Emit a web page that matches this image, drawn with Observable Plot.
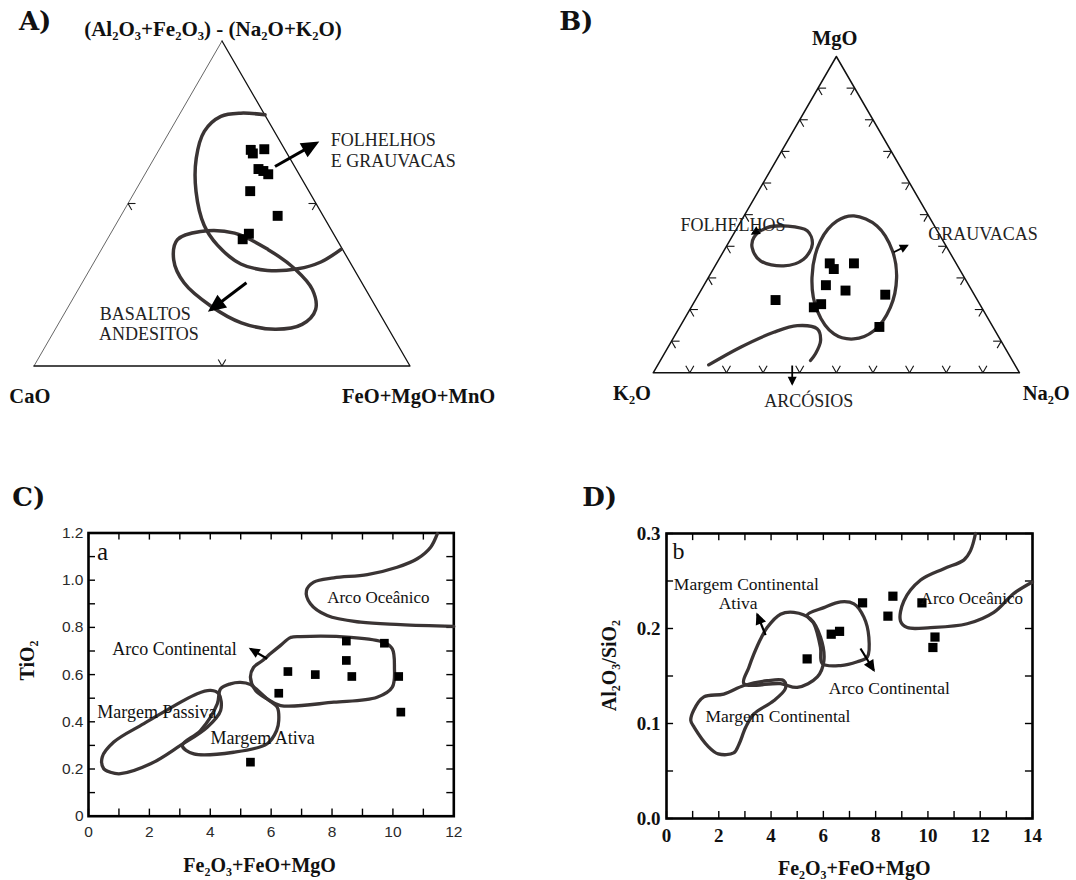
<!DOCTYPE html>
<html><head><meta charset="utf-8">
<script src="https://cdn.jsdelivr.net/npm/d3@7"></script>
<script src="https://cdn.jsdelivr.net/npm/@observablehq/plot@0.6"></script>
<style>
body{margin:0;background:#fff;}
#fig{position:relative;width:1076px;height:880px;overflow:hidden;background:#fff;}
#fig svg{position:absolute;overflow:visible;}
</style></head><body><div id="fig"></div>
<script>
// ================= DATA =================
// Panel A — ternary (Al2O3+Fe2O3)-(Na2O+K2O) [top] / CaO [left] / FeO+MgO+MnO [right], in %
const aTop = [66.5, 65.4, 66.7, 60.6, 60.0, 59.0, 53.8, 46.2, 40.7, 39.0];
const aCaO = [9.1, 9.1, 5.4, 10.0, 9.0, 8.2, 15.6, 12.1, 22.5, 25.0];
const aFMM = [24.4, 25.5, 27.9, 29.4, 31.0, 32.8, 30.6, 41.7, 36.8, 36.0];
// field boundaries as [top %, FeO+MgO+MnO %]
const aFieldShales = [[77.3,22.8],[77.8,16.1],[76.8,11.3],[72.2,9.2],[63.9,11.2],[53.6,16.3],[43.3,23.6],[37.1,30.3],[31.4,39.3],[29.4,47.4],[29.9,55.2],[32.0,60.3],[35.9,63.7]];
const aFieldBasalts = [[38.9,18.7],[41.4,23.6],[40.9,32.9],[35.8,44.4],[29.7,54.7],[23.5,62.3],[17.4,66.2],[12.8,64.9],[11.3,58.5],[13.3,48.5],[18.4,37.9],[25.6,27.1],[32.7,20.8]];
const aArrowFrom = [[61.4,33.4],[25.6,43.7]];
const aArrowTo = [[68.5,40.7],[17.4,38.4]];
const aTicks = [0.5];
const aLabels = ["A)", "(Al₂O₃+Fe₂O₃) - (Na₂O+K₂O)", "CaO", "FeO+MgO+MnO", "FOLHELHOS", "E GRAUVACAS", "BASALTOS", "ANDESITOS"];

// Panel B — ternary MgO [top] / K2O [left] / Na2O [right], in %
const bMgO = [34.6, 32.8, 34.6, 27.7, 26.0, 24.7, 21.7, 20.7, 23.0, 14.5];
const bK2O = [34.5, 34.3, 27.9, 39.0, 34.5, 24.3, 43.3, 45.8, 55.1, 31.0];
const bNa2O = [30.9, 32.9, 37.5, 33.3, 39.5, 51.0, 35.0, 33.5, 21.9, 54.5];
// field boundaries as [MgO %, Na2O %]
const bFieldShales = [[42.8,6.1],[45.9,8.2],[46.4,13.4],[44.9,19.6],[40.7,23.1],[35.9,23.1],[33.8,18.7],[35.4,11.6],[39.6,7.2]];
const bFieldGreywackes = [[49.6,30.0],[46.4,37.9],[38.6,46.0],[30.1,51.4],[20.7,54.4],[13.3,53.6],[10.7,49.4],[12.3,43.2],[19.6,35.0],[30.1,28.3],[41.7,24.8],[48.0,26.2]];
const bFieldArkoses = [[2.5,13.9],[8.1,19.8],[12.8,26.5],[14.9,31.9],[13.9,37.8],[10.2,40.6],[6.0,41.3],[3.9,41.0]];
const bArrowFrom = [[45.5,6.6],[2.3,36.8],[38.1,46.6]];
const bArrowTo = [[44.0,5.1],[-3.5,39.7],[40.2,49.2]];
const bTicks = [0.1,0.2,0.3,0.4,0.5,0.6,0.7,0.8,0.9];
const bLabels = ["B)", "MgO", "K₂O", "Na₂O", "ARCÓSIOS", "FOLHELHOS", "GRAUVACAS"];

// Panel C — TiO2 vs Fe2O3+FeO+MgO
const cFeMg = [5.32, 6.25, 6.55, 7.45, 8.47, 8.65, 10.19, 10.26, 8.47, 9.72];
const cTiO2 = [0.229, 0.521, 0.613, 0.600, 0.660, 0.592, 0.592, 0.441, 0.742, 0.733];
const cFieldOceanic = [[11.46,1.197],[11.24,1.140],[10.80,1.091],[10.14,1.055],[9.16,1.024],[8.06,1.010],[7.40,0.992],[7.16,0.956],[7.29,0.900],[7.84,0.850],[8.94,0.822],[10.25,0.812],[12.0,0.804]];
const cFieldContArc = [[6.31,0.724],[6.64,0.757],[6.96,0.761],[8.61,0.758],[9.70,0.737],[9.98,0.709],[10.05,0.631],[9.98,0.547],[9.48,0.504],[8.06,0.483],[6.31,0.469],[5.87,0.497],[5.49,0.533],[5.32,0.588],[5.42,0.630],[5.72,0.660],[5.98,0.689]];
const cFieldActive = [[3.08,0.300],[3.46,0.264],[4.77,0.271],[5.87,0.307],[6.18,0.363],[6.25,0.406],[6.20,0.462],[5.87,0.497],[5.49,0.541],[5.32,0.558],[4.99,0.567],[4.66,0.561],[4.34,0.540],[4.23,0.476],[3.68,0.363]];
const cFieldPassive = [[0.50,0.201],[0.72,0.186],[1.05,0.180],[2.04,0.222],[3.02,0.300],[3.90,0.377],[4.34,0.448],[4.28,0.519],[4.01,0.533],[3.57,0.519],[1.82,0.392],[0.83,0.314],[0.45,0.250]];
const cArrowFrom = [[5.87,0.667]];
const cArrowTo = [[5.32,0.709]];
const cXTickLabels = [0,2,4,6,8,10,12];
const cYTickLabels = [0,0.2,0.4,0.6,0.8,1.0,1.2];
const cXTicks = [0,1,2,3,4,5,6,7,8,9,10,11,12];
const cYTicks = [0,0.1,0.2,0.3,0.4,0.5,0.6,0.7,0.8,0.9,1.0,1.1,1.2];
const cLabels = ["C)", "TiO₂", "Fe₂O₃+FeO+MgO", "a", "Arco Oceânico", "Arco Continental", "Margem Passiva", "Margem Ativa"];

// Panel D — Al2O3/SiO2 vs Fe2O3+FeO+MgO
const dFeMg = [5.38, 6.30, 6.62, 7.50, 8.66, 8.47, 9.77, 10.27, 10.19];
const dAlSi = [0.168, 0.194, 0.197, 0.227, 0.234, 0.213, 0.227, 0.191, 0.180];
const dFieldContMargin = [[1.04,0.114],[1.43,0.128],[2.19,0.131],[2.96,0.140],[3.85,0.145],[4.49,0.145],[4.55,0.137],[4.10,0.124],[3.34,0.110],[3.03,0.096],[2.77,0.078],[2.57,0.069],[1.98,0.068],[1.59,0.076],[1.06,0.096],[0.93,0.103]];
const dFieldActive = [[2.96,0.142],[3.15,0.159],[3.34,0.173],[3.60,0.189],[3.85,0.201],[4.36,0.215],[4.87,0.217],[5.51,0.210],[5.89,0.191],[6.02,0.166],[5.77,0.149],[5.00,0.138],[4.36,0.142]];
const dFieldContArc = [[5.38,0.214],[6.02,0.222],[6.66,0.228],[7.17,0.226],[7.55,0.212],[7.74,0.191],[7.68,0.170],[7.30,0.165],[6.66,0.161],[5.96,0.163],[5.89,0.180],[5.64,0.205]];
const dFieldOceanic = [[11.82,0.300],[11.63,0.282],[11.37,0.272],[10.61,0.263],[9.72,0.251],[9.08,0.229],[8.95,0.208],[9.21,0.201],[10.10,0.201],[11.50,0.205],[12.52,0.217],[13.29,0.237],[14.0,0.249]];
const dArrowFrom = [[3.79,0.193],[7.42,0.179]];
const dArrowTo = [[3.47,0.215],[7.93,0.156]];
const dXTickLabels = [0,2,4,6,8,10,12,14];
const dYTickLabels = [0,0.1,0.2,0.3];
const dXTicks = [0,1,2,3,4,5,6,7,8,9,10,11,12,13,14];
const dYTicks = [0,0.05,0.1,0.15,0.2,0.25,0.3];
const dLabels = ["D)", "Al₂O₃/SiO₂", "Fe₂O₃+FeO+MgO", "b", "Margem Continental", "Ativa", "Arco Continental", "Margem Continental", "Arco Oceânico"];

// ================= HELPERS =================
const SERIF = "'Liberation Serif','Times New Roman',serif";
const HEAVY = "'DejaVu Serif',serif";
const INK = "#3a3434";

// ternary [top %, right %] -> triangle plane (x in 0..1, y = top fraction)
const tern = ([t, r]) => ({x: (r + t / 2) / 100, y: t / 100});
const ternPts = (top, left, right) => top.map((t, i) => {
  const s = t + left[i] + right[i];
  return {x: (right[i] + t / 2) / s, y: t / s};
});
// triangle edges: left (left vertex -> apex), right (apex -> right vertex), base
const edgeLeft = [[0,0],[100,0]].map(tern);
const edgeRest = [[100,0],[0,100],[0,0]].map(tern);
function chevrons(fracs, L) {
  const P = (t, r) => [r + t / 2, t];
  const out = [];
  for (const f of fracs) {
    const pairs = [
      [[f,0],[f,L]], [[f,0],[f-L,L]],
      [[f,1-f],[f,1-f-L]], [[f,1-f],[f-L,1-f]],
      [[0,f],[L,f-L]], [[0,f],[L,f]]
    ];
    for (const [[t1,r1],[t2,r2]] of pairs) {
      const [x1,y1] = P(t1,r1), [x2,y2] = P(t2,r2);
      out.push({x1,y1,x2,y2});
    }
  }
  return out;
}
const ternArrows = (from, to) => from.map((f, i) => {
  const a = tern(f), b = tern(to[i]);
  return {x1: a.x, y1: a.y, x2: b.x, y2: b.y};
});
const xyArrows = (from, to) => from.map((f, i) => ({x1: f[0], y1: f[1], x2: to[i][0], y2: to[i][1]}));
const xy = (pairs) => pairs.map(([x, y]) => ({x, y}));

function solidHeads(svg, len, half, over) {
  svg.querySelectorAll("marker").forEach(m => {
    const c = m.getAttribute("stroke") || "black";
    m.setAttribute("markerUnits", "userSpaceOnUse");
    m.setAttribute("viewBox", `${-len + over} ${-half} ${len} ${2 * half}`);
    m.setAttribute("markerWidth", len);
    m.setAttribute("markerHeight", 2 * half);
    m.setAttribute("refX", 0); m.setAttribute("refY", 0);
    m.setAttribute("fill", c); m.setAttribute("stroke", "none");
    m.setAttribute("overflow", "visible");
    m.querySelectorAll("path").forEach(p => p.setAttribute("d", `M${-len + over},${-half}L${over},0L${-len + over},${half}Z`));
  });
}
function place(svg, left, top) {
  svg.style.position = "absolute";
  svg.style.left = left + "px";
  svg.style.top = top + "px";
  document.getElementById("fig").appendChild(svg);
}
const label = (txt, x, y, o = {}) => Plot.text([txt], {x, y, text: d => d, fontFamily: SERIF, fill: "#111", ...o});

// ================= PANEL A =================
const plotA = Plot.plot({
  width: 538, height: 440,
  marginLeft: 33.5, marginRight: 128.5, marginTop: 40.5, marginBottom: 74.5,
  x: {domain: [0, 1], axis: null},
  y: {domain: [0, 1], axis: null},
  style: {fontFamily: SERIF, background: "transparent", overflow: "visible"},
  marks: [
    Plot.line(edgeLeft, {x: "x", y: "y", stroke: "#555", strokeWidth: 0.9}),
    Plot.line(edgeRest, {x: "x", y: "y", stroke: "#111", strokeWidth: 1.3}),
    Plot.link(chevrons(aTicks, 0.02), {x1: "x1", y1: "y1", x2: "x2", y2: "y2", stroke: "#1a1a1a", strokeWidth: 1.1}),
    Plot.line(aFieldShales.map(tern), {x: "x", y: "y", curve: "catmull-rom", stroke: INK, strokeWidth: 3.5}),
    Plot.line(aFieldBasalts.map(tern), {x: "x", y: "y", curve: "catmull-rom-closed", stroke: INK, strokeWidth: 3.5}),
    Plot.link(ternArrows(aArrowFrom, aArrowTo), {x1: "x1", y1: "y1", x2: "x2", y2: "y2", stroke: "black", strokeWidth: 3, markerEnd: "arrow"}),
    Plot.dot(ternPts(aTop, aCaO, aFMM), {x: "x", y: "y", symbol: "square", r: 5.6, fill: "black"}),
    label(aLabels[0], 0.003, 1.061, {fontFamily: HEAVY, fontWeight: "bold", fontSize: 26}),
    label(aLabels[1], 0.476, 1.037, {fontWeight: "bold", fontSize: 21}),
    label(aLabels[2], -0.011, -0.094, {fontWeight: "bold", fontSize: 20.5}),
    label(aLabels[3], 1.023, -0.094, {fontWeight: "bold", fontSize: 20.5}),
    label(aLabels[4], 0.789, 0.694, {textAnchor: "start", fontSize: 18, fill: "#222"}),
    label(aLabels[5], 0.789, 0.629, {textAnchor: "start", fontSize: 18, fill: "#222"}),
    label(aLabels[6], 0.175, 0.158, {textAnchor: "start", fontSize: 18, fill: "#222"}),
    label(aLabels[7], 0.173, 0.097, {textAnchor: "start", fontSize: 18, fill: "#222"})
  ]
});
solidHeads(plotA, 18, 8, 4);
place(plotA, 0, 0);

// ================= PANEL B =================
const plotB = Plot.plot({
  width: 538, height: 440,
  marginLeft: 114.7, marginRight: 57, marginTop: 56, marginBottom: 67.7,
  x: {domain: [0, 1], axis: null},
  y: {domain: [0, 1], axis: null},
  style: {fontFamily: SERIF, background: "transparent", overflow: "visible"},
  marks: [
    Plot.line([...edgeLeft, ...edgeRest.slice(1)], {x: "x", y: "y", curve: "linear-closed", stroke: "#111", strokeWidth: 1.5}),
    Plot.link(chevrons(bTicks, 0.022), {x1: "x1", y1: "y1", x2: "x2", y2: "y2", stroke: "#111", strokeWidth: 1.1}),
    Plot.line(bFieldShales.map(tern), {x: "x", y: "y", curve: "catmull-rom-closed", stroke: INK, strokeWidth: 3.3}),
    Plot.line(bFieldGreywackes.map(tern), {x: "x", y: "y", curve: "catmull-rom-closed", stroke: INK, strokeWidth: 3.3}),
    Plot.line(bFieldArkoses.map(tern), {x: "x", y: "y", curve: "catmull-rom", stroke: INK, strokeWidth: 3.3}),
    Plot.link(ternArrows(bArrowFrom, bArrowTo), {x1: "x1", y1: "y1", x2: "x2", y2: "y2", stroke: "black", strokeWidth: 1.8, markerEnd: "arrow"}),
    Plot.dot(ternPts(bMgO, bK2O, bNa2O), {x: "x", y: "y", symbol: "square", r: 5.6, fill: "black"}),
    label(bLabels[0], -0.21, 1.111, {fontFamily: HEAVY, fontWeight: "bold", fontSize: 26}),
    label(bLabels[1], 0.4955, 1.0585, {fontWeight: "bold", fontSize: 20.5}),
    label(bLabels[2], -0.058, -0.064, {fontWeight: "bold", fontSize: 20.5}),
    label(bLabels[3], 1.073, -0.064, {fontWeight: "bold", fontSize: 20.5}),
    label(bLabels[4], 0.4248, -0.090, {fontSize: 18, fill: "#222"}),
    label(bLabels[5], 0.2179, 0.4657, {fontSize: 18, fill: "#222"}),
    label(bLabels[6], 0.9004, 0.4395, {fontSize: 18, fill: "#222"})
  ]
});
solidHeads(plotB, 9, 4.5, 2);
place(plotB, 538, 0);

// ================= PANEL C =================
const plotC = Plot.plot({
  width: 538, height: 440,
  marginLeft: 88, marginRight: 84.7, marginTop: 92.5, marginBottom: 64.3,
  x: {domain: [0, 12], ticks: cXTickLabels, tickSize: 0, tickPadding: 10, tickFormat: d => String(d), label: null},
  y: {domain: [0, 1.2], ticks: cYTickLabels, tickSize: 0, tickPadding: 5, tickFormat: d => d === 0 ? "0" : d.toFixed(1), label: null},
  style: {fontFamily: "'Liberation Sans',sans-serif", fontSize: "15.5px", color: "#2a2a2a", background: "transparent", overflow: "visible"},
  marks: [
    Plot.ruleX(cXTicks, {y1: 0, y2: 0.03, stroke: "black", strokeWidth: 1.4}),
    Plot.ruleX(cXTicks, {y1: 1.2, y2: 1.17, stroke: "black", strokeWidth: 1.4}),
    Plot.ruleY(cYTicks, {x1: 0, x2: 0.23, stroke: "black", strokeWidth: 1.4}),
    Plot.ruleY(cYTicks, {x1: 12, x2: 11.77, stroke: "black", strokeWidth: 1.4}),
    Plot.frame({stroke: "black", strokeWidth: 2.6}),
    Plot.line(xy(cFieldOceanic), {x: "x", y: "y", curve: "catmull-rom", stroke: INK, strokeWidth: 3.3}),
    Plot.line(xy(cFieldContArc), {x: "x", y: "y", curve: "catmull-rom-closed", stroke: INK, strokeWidth: 3.3}),
    Plot.line(xy(cFieldActive), {x: "x", y: "y", curve: "catmull-rom-closed", stroke: INK, strokeWidth: 3.3}),
    Plot.line(xy(cFieldPassive), {x: "x", y: "y", curve: "catmull-rom-closed", stroke: INK, strokeWidth: 3.3}),
    Plot.link(xyArrows(cArrowFrom, cArrowTo), {x1: "x1", y1: "y1", x2: "x2", y2: "y2", stroke: "black", strokeWidth: 2.2, markerEnd: "arrow"}),
    Plot.dot(cFeMg.map((x, i) => ({x, y: cTiO2[i]})), {x: "x", y: "y", symbol: "square", r: 4.9, fill: "black"}),
    label(cLabels[0], -1.96, 1.348, {fontFamily: HEAVY, fontWeight: "bold", fontSize: 26}),
    label(cLabels[1], -2.0, 0.66, {fontWeight: "bold", fontSize: 20, rotate: -90}),
    label(cLabels[2], 5.62, -0.209, {fontWeight: "bold", fontSize: 20}),
    label(cLabels[3], 0.46, 1.118, {fontSize: 25}),
    label(cLabels[4], 7.84, 0.928, {textAnchor: "start", fontSize: 17}),
    label(cLabels[5], 0.78, 0.709, {textAnchor: "start", fontSize: 18}),
    label(cLabels[6], 0.29, 0.44, {textAnchor: "start", fontSize: 18}),
    label(cLabels[7], 4.01, 0.332, {textAnchor: "start", fontSize: 18})
  ]
});
solidHeads(plotC, 11, 5, 2);
place(plotC, 0, 440);

// ================= PANEL D =================
const plotD = Plot.plot({
  width: 538, height: 440,
  marginLeft: 128, marginRight: 44, marginTop: 93, marginBottom: 62,
  x: {domain: [0, 14], ticks: dXTickLabels, tickSize: 0, tickPadding: 10, tickFormat: d => String(d), label: null},
  y: {domain: [0, 0.3], ticks: dYTickLabels, tickSize: 0, tickPadding: 6, tickFormat: d => d.toFixed(1), label: null},
  style: {fontFamily: SERIF, fontSize: "19px", fontWeight: "bold", color: "#111", background: "transparent", overflow: "visible"},
  marks: [
    Plot.ruleX(dXTicks, {y1: 0, y2: 0.0075, stroke: "black", strokeWidth: 1.4}),
    Plot.ruleX(dXTicks, {y1: 0.3, y2: 0.2925, stroke: "black", strokeWidth: 1.4}),
    Plot.ruleY(dYTicks, {x1: 0, x2: 0.27, stroke: "black", strokeWidth: 1.4}),
    Plot.ruleY(dYTicks, {x1: 14, x2: 13.73, stroke: "black", strokeWidth: 1.4}),
    Plot.frame({stroke: "black", strokeWidth: 2.6}),
    Plot.line(xy(dFieldContMargin), {x: "x", y: "y", curve: "catmull-rom-closed", stroke: INK, strokeWidth: 3.3}),
    Plot.line(xy(dFieldActive), {x: "x", y: "y", curve: "catmull-rom-closed", stroke: INK, strokeWidth: 3.3}),
    Plot.line(xy(dFieldContArc), {x: "x", y: "y", curve: "catmull-rom-closed", stroke: INK, strokeWidth: 3.3}),
    Plot.line(xy(dFieldOceanic), {x: "x", y: "y", curve: "catmull-rom", stroke: INK, strokeWidth: 3.3}),
    Plot.link(xyArrows(dArrowFrom, dArrowTo), {x1: "x1", y1: "y1", x2: "x2", y2: "y2", stroke: "black", strokeWidth: 2.2, markerEnd: "arrow"}),
    Plot.dot(dFeMg.map((x, i) => ({x, y: dAlSi[i]})), {x: "x", y: "y", symbol: "square", r: 5.2, fill: "black"}),
    label(dLabels[0], -2.56, 0.338, {fontFamily: HEAVY, fontWeight: "bold", fontSize: 26}),
    label(dLabels[1], -2.18, 0.161, {fontWeight: "bold", fontSize: 20, rotate: -90}),
    label(dLabels[2], 7.18, -0.053, {fontWeight: "bold", fontSize: 20}),
    label(dLabels[3], 0.46, 0.281, {fontWeight: "normal", fontSize: 24}),
    label(dLabels[4], 0.28, 0.246, {fontWeight: "normal", textAnchor: "start", fontSize: 17.5}),
    label(dLabels[5], 2.74, 0.226, {fontWeight: "normal", fontSize: 17.5}),
    label(dLabels[6], 6.21, 0.137, {fontWeight: "normal", textAnchor: "start", fontSize: 17.5}),
    label(dLabels[7], 1.49, 0.108, {fontWeight: "normal", textAnchor: "start", fontSize: 17.5}),
    label(dLabels[8], 9.72, 0.232, {fontWeight: "normal", textAnchor: "start", fontSize: 17})
  ]
});
solidHeads(plotD, 12, 5.5, 2);
place(plotD, 538, 440);
</script></body></html>
